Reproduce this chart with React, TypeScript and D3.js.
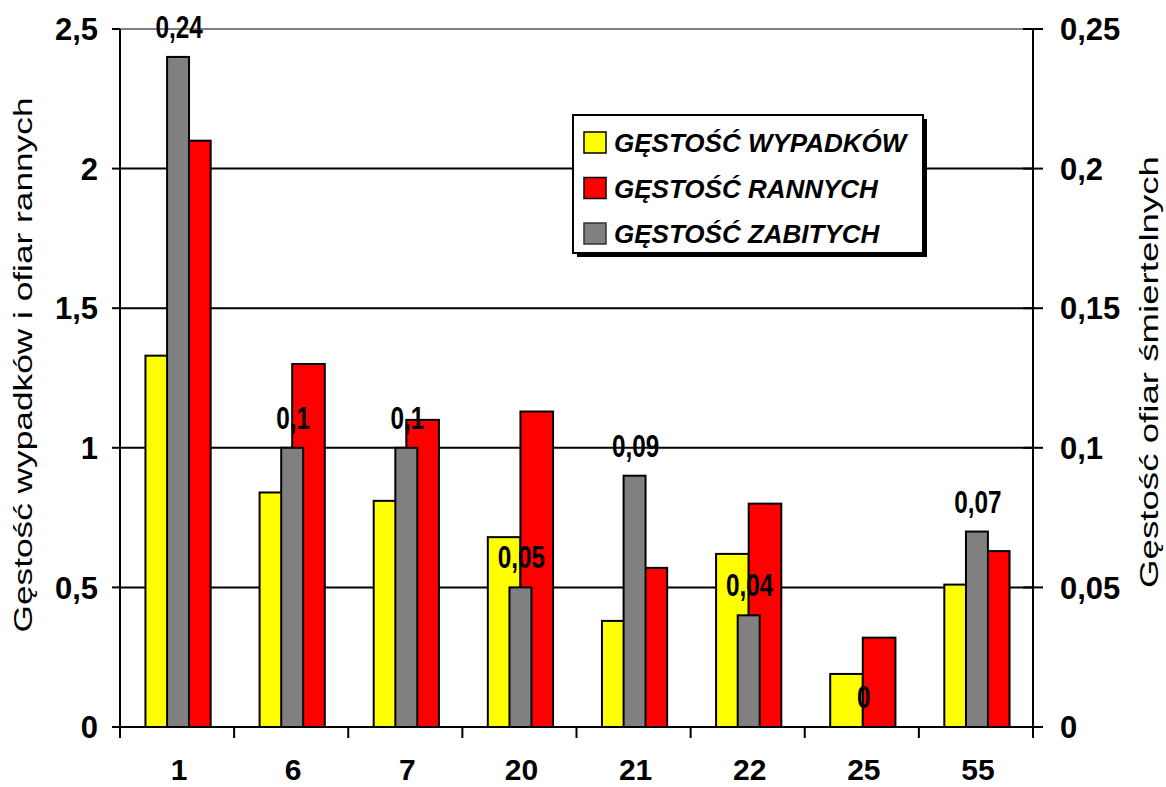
import React from "react";
import * as d3 from "d3";

const categories = ["1", "6", "7", "20", "21", "22", "25", "55"];
const wypadki = [1.33, 0.84, 0.81, 0.68, 0.38, 0.62, 0.19, 0.51];
const ranni = [2.1, 1.3, 1.1, 1.13, 0.57, 0.8, 0.32, 0.63];
const zabici = [0.24, 0.1, 0.1, 0.05, 0.09, 0.04, 0, 0.07];
const leftTicks = [0, 0.5, 1, 1.5, 2, 2.5];
const rightTicks = [0, 0.05, 0.1, 0.15, 0.2, 0.25];
const legendLabels = ["GĘSTOŚĆ WYPADKÓW", "GĘSTOŚĆ RANNYCH", "GĘSTOŚĆ ZABITYCH"];
const legendColors = ["#FFFF00", "#FF0000", "#808080"];
const leftTitle = "Gęstość wypadków i ofiar rannych";
const rightTitle = "Gęstość ofiar śmiertelnych";

const W = 1166;
const H = 787;
const M = { left: 120, right: 1033, top: 29, bottom: 727 };
const FONT = "'Liberation Sans', Arial, sans-serif";

const fmt = (v: number) => String(v).replace(".", ",");

export default function App() {
  const x = d3.scaleBand<string>().domain(categories).range([M.left, M.right]).padding(0);
  const yL = d3.scaleLinear().domain([0, 2.5]).range([M.bottom, M.top]);
  const yR = d3.scaleLinear().domain([0, 0.25]).range([M.bottom, M.top]);
  const bw = x.bandwidth();
  const pw = bw / 3.5; // primary bar width (gap 150%)
  const sw = bw / 5.2; // secondary bar width
  const cx = (c: string) => (x(c) as number) + bw / 2 + 1;

  return (
    <svg width={W} height={H} style={{ position: "absolute", left: 0, top: 0, background: "#fff" }}>
      <rect x={0} y={0} width={W} height={H} fill="#fff" />
      {/* gridlines */}
      {leftTicks.slice(1).map((t) => (
        <line key={"g" + t} x1={M.left} x2={M.right} y1={yL(t)} y2={yL(t)}
          stroke={t === 2.5 ? "#808080" : "#000"} strokeWidth={2} />
      ))}
      {/* primary bars */}
      {categories.map((c, i) => (
        <g key={"p" + c}>
          <rect x={cx(c) - pw} y={yL(wypadki[i])} width={pw} height={yL(0) - yL(wypadki[i])}
            fill="#FFFF00" stroke="#000" strokeWidth={2} />
          <rect x={cx(c)} y={yL(ranni[i])} width={pw} height={yL(0) - yL(ranni[i])}
            fill="#FF0000" stroke="#000" strokeWidth={2} />
        </g>
      ))}
      {/* secondary bars */}
      {categories.map((c, i) =>
        zabici[i] > 0 ? (
          <rect key={"s" + c} x={cx(c) - sw / 2} y={yR(zabici[i])} width={sw} height={yR(0) - yR(zabici[i])}
            fill="#808080" stroke="#000" strokeWidth={2} />
        ) : null
      )}
      {/* data labels */}
      {categories.map((c, i) => (
        <g key={"l" + c} transform={`translate(${cx(c) + 1},${yR(zabici[i]) - 19}) scale(0.76,1)`}>
          <text x={0} y={0} textAnchor="middle" fontFamily={FONT} fontWeight="bold" fontSize={32} fill="#000">
            {fmt(zabici[i])}
          </text>
        </g>
      ))}
      {/* axes */}
      <line x1={M.left} x2={M.left} y1={M.top} y2={M.bottom} stroke="#000" strokeWidth={2} />
      <line x1={M.right} x2={M.right} y1={M.top} y2={M.bottom} stroke="#000" strokeWidth={2} />
      <line x1={M.left - 8} x2={M.right + 10} y1={M.bottom} y2={M.bottom} stroke="#000" strokeWidth={2} />
      {leftTicks.map((t) => (
        <g key={"lt" + t}>
          <line x1={M.left - 8} x2={M.left} y1={yL(t)} y2={yL(t)} stroke="#000" strokeWidth={2} />
          <text x={98} y={yL(t)} dy="0.36em" textAnchor="end" fontFamily={FONT} fontWeight="bold" fontSize={31}>
            {fmt(t)}
          </text>
        </g>
      ))}
      {rightTicks.map((t) => (
        <g key={"rt" + t}>
          <line x1={M.right - 10} x2={M.right + 10} y1={yR(t)} y2={yR(t)} stroke="#000" strokeWidth={2} />
          <text x={1060} y={yR(t)} dy="0.36em" textAnchor="start" fontFamily={FONT} fontWeight="bold" fontSize={31}>
            {fmt(t)}
          </text>
        </g>
      ))}
      {x.domain().concat(["end"]).map((c, i) => {
        const xx = M.left + i * bw;
        return <line key={"xt" + i} x1={xx} x2={xx} y1={M.bottom} y2={M.bottom + 11} stroke="#000" strokeWidth={2} />;
      })}
      {categories.map((c) => (
        <text key={"xl" + c} x={cx(c) + 1} y={780} textAnchor="middle" fontFamily={FONT} fontWeight="bold" fontSize={30}>
          {c}
        </text>
      ))}
      {/* axis titles */}
      <text transform="translate(32,365) rotate(-90)" textAnchor="middle" fontFamily={FONT} fontSize={26}
        textLength={535} lengthAdjust="spacingAndGlyphs">
        {leftTitle}
      </text>
      <text transform="translate(1158,372) rotate(-90)" textAnchor="middle" fontFamily={FONT} fontSize={26}
        textLength={432} lengthAdjust="spacingAndGlyphs">
        {rightTitle}
      </text>
      {/* legend */}
      <rect x={577} y={119} width={350} height={138} fill="#000" />
      <rect x={573} y={115} width={350} height={138} fill="#fff" stroke="#000" strokeWidth={2} />
      {legendLabels.map((l, i) => (
        <g key={"lg" + i}>
          <rect x={584} y={132 + i * 45.5} width={22} height={21} fill={legendColors[i]}
            stroke={i === 2 ? "#333" : "#000"} strokeWidth={1.5} />
          <text x={614} y={152 + i * 45.5} fontFamily={FONT} fontWeight="bold" fontStyle="italic" fontSize={26}>
            {l}
          </text>
        </g>
      ))}
    </svg>
  );
}
